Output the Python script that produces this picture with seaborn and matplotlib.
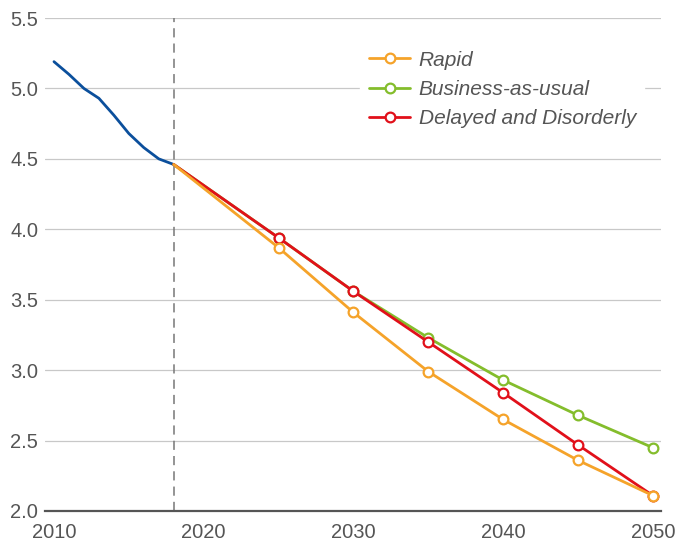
import pandas as pd
import matplotlib.pyplot as plt
import seaborn as sns

# historical series
hist_years = [2010, 2011, 2012, 2013, 2014, 2015, 2016, 2017, 2018]
hist_values = [5.19, 5.10, 5.00, 4.93, 4.81, 4.68, 4.58, 4.50, 4.46]

# scenario projections
proj_years = [2018, 2025, 2030, 2035, 2040, 2045, 2050]
rapid = [4.46, 3.87, 3.41, 2.99, 2.65, 2.36, 2.11]
business_as_usual = [4.46, 3.94, 3.56, 3.23, 2.93, 2.68, 2.45]
delayed = [4.46, 3.94, 3.56, 3.20, 2.84, 2.47, 2.11]

scenario_names = ["Rapid", "Business-as-usual", "Delayed and Disorderly"]
scenario_colors = {"Rapid": "#f5a32a", "Business-as-usual": "#84bd2c",
                   "Delayed and Disorderly": "#e1101a"}
x_ticks = [2010, 2020, 2030, 2040, 2050]
y_ticks = [2.0, 2.5, 3.0, 3.5, 4.0, 4.5, 5.0, 5.5]

sns.set_theme(style="white")
plt.rcParams['font.family'] = ['Liberation Sans', 'DejaVu Sans']

hist_df = pd.DataFrame({"year": hist_years, "value": hist_values})
proj_df = pd.DataFrame({
    "year": proj_years * 3,
    "value": rapid + business_as_usual + delayed,
    "scenario": [s for s in scenario_names for _ in proj_years],
})

fig = plt.figure(figsize=(6.78, 5.47), dpi=100)
ax = fig.add_axes([45 / 678, 1 - 511 / 547, 616 / 678, 493 / 547])

for y in y_ticks[1:]:
    ax.axhline(y, color="#c8c8c8", lw=0.9, zorder=0)
ax.axvline(2018, color="#777777", lw=1.1, ls=(0, (6, 4)), zorder=1)

sns.lineplot(data=hist_df, x="year", y="value", color="#0b4f9c", lw=2, ax=ax, zorder=3)

# rapid drawn last so its markers sit on top, as in the original
draw_order = ["Business-as-usual", "Delayed and Disorderly", "Rapid"]
handles = {}
for name in draw_order:
    sub = proj_df[proj_df["scenario"] == name]
    sns.lineplot(data=sub, x="year", y="value", color=scenario_colors[name], lw=2, ax=ax,
                 zorder=4, label=name)
    line = ax.lines[-1]
    line.set_marker("o")
    line.set_markevery(list(range(1, len(proj_years))))
    line.set_markersize(7)
    line.set_markerfacecolor("white")
    line.set_markeredgewidth(1.6)
    line.set_markeredgecolor(scenario_colors[name])
    handles[name] = line

ax.set_xlim(2009.4, 2050.55)
ax.set_ylim(2.0, 5.5)
ax.set_xticks(x_ticks)
ax.set_yticks(y_ticks)
ax.set_yticklabels([f"{v:.1f}" for v in y_ticks])
ax.set_xlabel("")
ax.set_ylabel("")
ax.tick_params(axis="both", length=0, labelsize=14.5, labelcolor="#555555")
ax.tick_params(axis="y", pad=5)
ax.tick_params(axis="x", pad=9)
for side in ["left", "right", "top"]:
    ax.spines[side].set_visible(False)
ax.spines["bottom"].set_color("#555555")
ax.spines["bottom"].set_linewidth(1.6)
ax.spines["bottom"].set_zorder(5)

leg = ax.legend([handles[n] for n in scenario_names], scenario_names,
                loc="upper left", bbox_to_anchor=(0.495, 0.972), frameon=True,
                facecolor="white", edgecolor="white", framealpha=1,
                fontsize=15, handlelength=2.0, handletextpad=0.4,
                labelspacing=0.5, borderpad=0.4)
for t in leg.get_texts():
    t.set_fontstyle("italic")
    t.set_color("#555555")

fig.savefig("out.png", dpi=100)
